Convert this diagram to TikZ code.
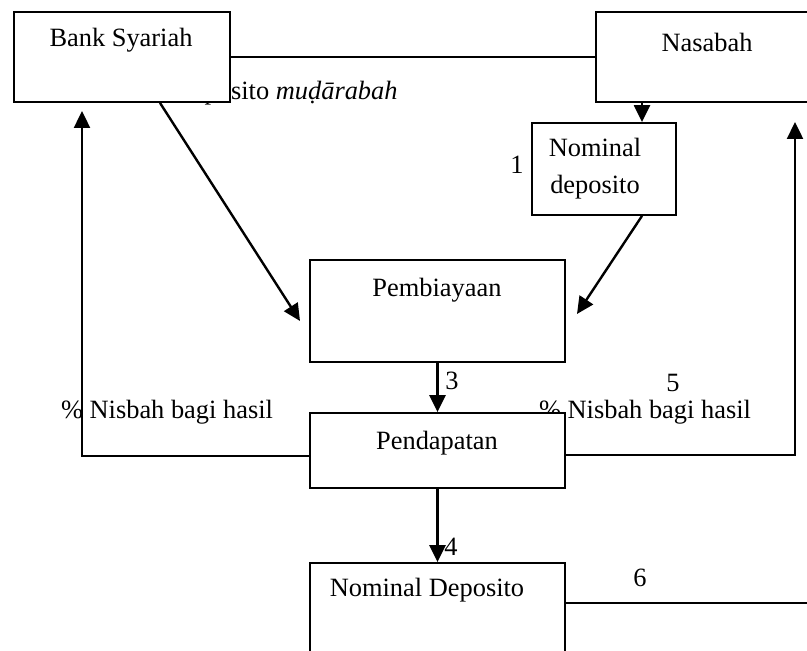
\documentclass[tikz,border=0pt]{standalone}
\usepackage{fontspec}
\setmainfont{Liberation Serif}
\usetikzlibrary{arrows.meta,calc}
\begin{document}
\begin{tikzpicture}[x=0.5pt,y=-0.5pt,
  box/.style={draw,fill=white,line width=0.9pt,inner sep=0pt,rectangle},
  lbl/.style={inner sep=0pt,font=\fontsize{13.2}{18.5}\selectfont},
  conn/.style={line width=1.2pt},
  arr/.style={conn,-{Triangle[length=8.5pt,width=8pt]}}]
\useasboundingbox (0,0) rectangle (807,651);
% texts partly covered by boxes
\node[lbl,anchor=base east] (mud) at (398,100) {Deposito \textit{muḍārabah}};
\node[lbl] (nisr) at (645,412) {\% Nisbah bagi hasil};
% boxes
\node[box,minimum width=108pt,minimum height=45pt] (BS) at (122,57) {};
\node[box,minimum width=111pt,minimum height=45pt] (Nas) at (707,57) {};
\node[box,minimum width=72pt,minimum height=46pt] (ND) at (604,169) {};
\node[box,minimum width=127.5pt,minimum height=51pt] (Pemb) at (437.5,311) {};
\node[box,minimum width=127.5pt,minimum height=37.5pt] (Pend) at (437.5,450.5) {};
\node[box,minimum width=127.5pt,minimum height=58.5pt] (NDep) at (437.5,621.5) {};
% texts
\node[lbl] (tBS) at (121,40) {Bank Syariah};
\node[lbl] (tNas) at (707,42) {Nasabah};
\node[lbl,align=center] (tND) at (595,169) {Nominal\\deposito};
\node[lbl] (tPemb) at (437,290) {Pembiayaan};
\node[lbl] (tPend) at (437,443) {Pendapatan};
\node[lbl] (tNDep) at (427,590) {Nominal Deposito};
\node[lbl] (nisl) at (167,412) {\% Nisbah bagi hasil};
\node[lbl] (n1) at (517,165) {1};
\node[lbl] (n3) at (452,381) {3};
\node[lbl] (n5) at (673,383) {5};
\node[lbl] (n4) at (451,547) {4};
\node[lbl] (n6) at (640,578) {6};
% coordinates
\coordinate (e1) at (300,321);
\coordinate (e2) at (577,314);
\coordinate (ndt) at ([xshift=19pt]ND.north);
\coordinate (lt) at (82,111);
\coordinate (rt) at (795,122);
\coordinate (r6) at (820,603);
% connectors
\draw[conn] (BS.east) -- (Nas.west);
\draw[arr] (ndt |- Nas.south) -- (ndt);
\draw[arr] ([xshift=19pt]BS.south) -- (e1);
\draw[arr] ([xshift=19pt]ND.south) -- (e2);
\draw[arr] (Pemb.south) -- (Pend.north);
\draw[arr] (Pend.south) -- (NDep.north);
\draw[arr] ([yshift=-2.75pt]Pend.west) -| (lt);
\draw[arr] ([yshift=-2.25pt]Pend.east) -| (rt);
\draw[conn] ([yshift=9.25pt]NDep.east) -- (r6);
\end{tikzpicture}
\end{document}
